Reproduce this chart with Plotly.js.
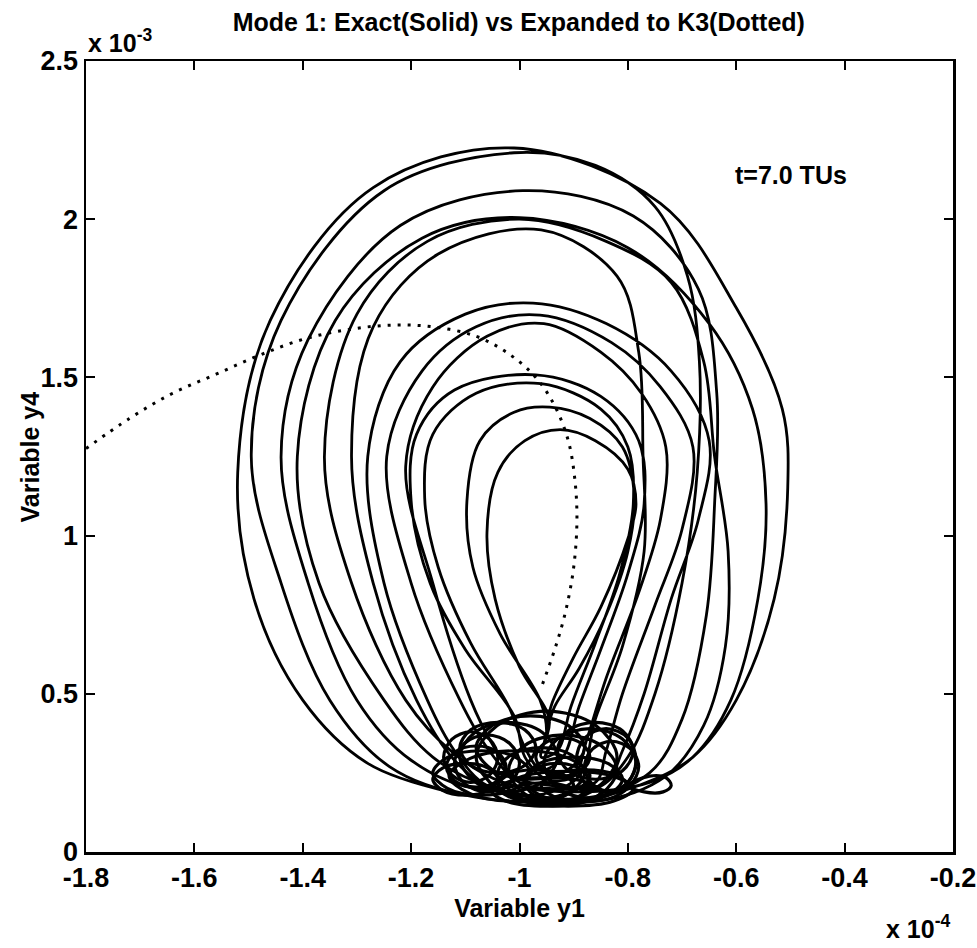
<!DOCTYPE html>
<html>
<head>
<meta charset="utf-8">
<script src="https://cdn.plot.ly/plotly-3.0.1.min.js"></script>
<style>
  html, body { margin: 0; padding: 0; background: #ffffff; }
  #chart { width: 977px; height: 948px; }
</style>
</head>
<body>
<div id="chart"></div>
<script>
// ---- Data (x in units of 1e-4, y in units of 1e-3) ----

// Exact solution: large loops of the trajectory, joined inside the bottom cluster
const exactLoopsX = [
  // loop 1 (outermost, top ~2.225)
  -1.13, -1.28, -1.40, -1.49, -1.52, -1.46, -1.27, -1.01, -0.74, -0.60, -0.515, -0.505, -0.53, -0.60, -0.68, -0.78,
  -0.90,
  // loop 2 (top ~2.21)
  -1.10, -1.24, -1.35, -1.44, -1.495, -1.44, -1.25, -1.01, -0.86, -0.75, -0.69, -0.668, -0.672, -0.70, -0.75, -0.80, -0.86,
  -0.95,
  // loop 3 (top ~2.09)
  -1.08, -1.20, -1.30, -1.39, -1.44, -1.39, -1.22, -0.994, -0.79, -0.67, -0.636, -0.64, -0.655, -0.70, -0.76,
  -0.88,
  // loop 4 (top ~2.0)
  -1.06, -1.16, -1.25, -1.37, -1.41, -1.34, -1.18, -1.00, -0.80, -0.65, -0.57, -0.545, -0.56, -0.61, -0.68, -0.76,
  -0.90,
  // loop 5 (top ~2.0)
  -1.03, -1.12, -1.21, -1.31, -1.36, -1.30, -1.17, -1.00, -0.84, -0.72, -0.66, -0.64, -0.615, -0.62, -0.66, -0.73,
  -0.86,
  // loop 6 (top ~1.966)
  -1.04, -1.12, -1.19, -1.27, -1.31, -1.27, -1.15, -0.96, -0.82, -0.78, -0.772, -0.77, -0.81, -0.86, -0.89,
  -0.97,
  // loop 7 (top ~1.735)
  -1.06, -1.12, -1.17, -1.25, -1.28, -1.22, -1.10, -0.975, -0.84, -0.72, -0.65, -0.67, -0.72, -0.77, -0.81, -0.84,
  -0.92,
  // loop 8 (top ~1.697)
  -1.00, -1.06, -1.11, -1.20, -1.245, -1.18, -1.08, -0.962, -0.83, -0.74, -0.68, -0.70, -0.75, -0.81, -0.84, -0.86,
  -0.94,
  // loop 9 (top ~1.67)
  -1.01, -1.05, -1.09, -1.16, -1.21, -1.16, -1.06, -0.955, -0.85, -0.775, -0.73, -0.74, -0.78, -0.84, -0.875, -0.90,
  -0.95,
  // loop 10 (top ~1.508)
  -0.99, -1.01, -1.10, -1.165, -1.20, -1.19, -1.12, -0.97, -0.85, -0.78, -0.77, -0.80, -0.85, -0.89, -0.92,
  -0.96,
  // loop 11 (top ~1.48)
  -0.99, -1.02, -1.09, -1.15, -1.175, -1.16, -1.08, -0.96, -0.85, -0.80, -0.79, -0.815, -0.86, -0.905, -0.93,
  -0.96,
  // loop 12 (teardrop, top ~1.406)
  -0.95, -0.962, -1.036, -1.086, -1.097, -1.073, -1.01, -0.944, -0.87, -0.81, -0.788, -0.80, -0.84, -0.89, -0.935, -0.95,
  -0.955,
  // loop 13 (innermost teardrop, top ~1.335)
  -0.945, -1.0, -1.045, -1.06, -1.04, -0.99, -0.925, -0.86, -0.80, -0.785, -0.80, -0.85, -0.90, -0.94, -0.95
];
const exactLoopsY = [
  0.19, 0.28, 0.48, 0.80, 1.20, 1.68, 2.10, 2.225, 2.05, 1.72, 1.40, 1.15, 0.80, 0.48, 0.30, 0.21,
  0.16,
  0.18, 0.27, 0.48, 0.85, 1.25, 1.68, 2.09, 2.21, 2.17, 2.04, 1.82, 1.55, 1.20, 0.85, 0.50, 0.30, 0.20,
  0.22,
  0.20, 0.29, 0.48, 0.85, 1.25, 1.62, 1.98, 2.09, 2.01, 1.78, 1.45, 1.10, 0.75, 0.42, 0.25,
  0.17,
  0.21, 0.30, 0.48, 0.85, 1.25, 1.68, 1.94, 2.005, 1.91, 1.67, 1.40, 1.10, 0.80, 0.48, 0.30, 0.22,
  0.19,
  0.22, 0.31, 0.48, 0.85, 1.25, 1.70, 1.93, 2.0, 1.93, 1.80, 1.55, 1.25, 0.95, 0.65, 0.40, 0.24,
  0.16,
  0.19, 0.29, 0.48, 0.85, 1.25, 1.66, 1.89, 1.966, 1.82, 1.58, 1.25, 0.95, 0.65, 0.42, 0.24,
  0.18,
  0.21, 0.32, 0.48, 0.85, 1.25, 1.55, 1.70, 1.735, 1.67, 1.52, 1.30, 1.05, 0.80, 0.50, 0.32, 0.22,
  0.20,
  0.22, 0.33, 0.48, 0.85, 1.25, 1.52, 1.66, 1.697, 1.61, 1.47, 1.28, 1.02, 0.78, 0.50, 0.32, 0.22,
  0.21,
  0.24, 0.34, 0.48, 0.85, 1.22, 1.47, 1.63, 1.67, 1.58, 1.45, 1.28, 1.05, 0.82, 0.55, 0.36, 0.24,
  0.23,
  0.30, 0.43, 0.64, 0.85, 1.11, 1.32, 1.46, 1.508, 1.44, 1.30, 1.10, 0.88, 0.64, 0.46, 0.30,
  0.26,
  0.33, 0.46, 0.66, 0.90, 1.12, 1.32, 1.45, 1.48, 1.40, 1.28, 1.10, 0.88, 0.66, 0.46, 0.32,
  0.30,
  0.38, 0.48, 0.69, 0.90, 1.11, 1.30, 1.39, 1.406, 1.37, 1.28, 1.12, 0.95, 0.75, 0.58, 0.46, 0.38,
  0.34,
  0.42, 0.585, 0.80, 1.01, 1.20, 1.30, 1.335, 1.30, 1.21, 1.10, 0.99, 0.774, 0.616, 0.47, 0.40
];

// Exact solution: small tangled loops of the bottom cluster (null separates loops)
const clusterX = [
  -1.00, -1.018, -1.06, -1.102, -1.12, -1.102, -1.06, -1.018, -1.00, null,
  -0.93, -0.957, -1.02, -1.083, -1.11, -1.083, -1.02, -0.957, -0.93, null,
  -0.82, -0.859, -0.95, -1.041, -1.08, -1.041, -0.95, -0.859, -0.82, null,
  -0.82, -0.85, -0.92, -0.99, -1.02, -0.99, -0.92, -0.85, -0.82, null,
  -0.785, -0.81, -0.87, -0.93, -0.955, -0.93, -0.87, -0.81, -0.785, null,
  -0.785, -0.80, -0.84, -0.88, -0.895, -0.88, -0.84, -0.80, -0.785, null,
  -0.87, -0.909, -1.00, -1.091, -1.13, -1.091, -1.00, -0.909, -0.87, null,
  -0.87, -0.888, -0.93, -0.972, -0.99, -0.972, -0.93, -0.888, -0.87, null,
  -0.88, -0.904, -0.96, -1.016, -1.04, -1.016, -0.96, -0.904, -0.88, null,
  -0.79, -0.826, -0.91, -0.994, -1.03, -0.994, -0.91, -0.826, -0.79, null,
  -1.025, -1.041, -1.08, -1.119, -1.135, -1.119, -1.08, -1.041, -1.025, null,
  -0.78, -0.795, -0.83, -0.865, -0.88, -0.865, -0.83, -0.795, -0.78, null,
  -0.88, -0.91, -0.98, -1.05, -1.08, -1.05, -0.98, -0.91, -0.88, null,
  -0.98, -1.007, -1.07, -1.133, -1.16, -1.133, -1.07, -1.007, -0.98, null,
  -0.81, -0.836, -0.90, -0.964, -0.99, -0.964, -0.90, -0.836, -0.81, null,
  -0.97, -0.99, -1.04, -1.09, -1.11, -1.09, -1.04, -0.99, -0.97, null,
  -0.79, -0.81, -0.86, -0.91, -0.93, -0.91, -0.86, -0.81, -0.79, null,
  -1.04, -1.058, -1.10, -1.142, -1.16, -1.142, -1.10, -1.058, -1.04, null,
  -0.85, -0.88, -0.95, -1.02, -1.05, -1.02, -0.95, -0.88, -0.85, null,
  -0.80, -0.824, -0.88, -0.936, -0.96, -0.936, -0.88, -0.824, -0.80, null,
  -0.90, -0.92, -0.97, -1.02, -1.04, -1.02, -0.97, -0.92, -0.90, null,
  -0.87, -0.885, -0.92, -0.955, -0.97, -0.955, -0.92, -0.885, -0.87, null,
  -1.04, -1.055, -1.09, -1.125, -1.14, -1.125, -1.09, -1.055, -1.04, null,
  -0.80, -0.76, -0.73, -0.72, -0.735, -0.77, -0.80
];
const clusterY = [
  0.28, 0.343, 0.37, 0.343, 0.28, 0.217, 0.19, 0.217, 0.28, null,
  0.30, 0.377, 0.41, 0.377, 0.30, 0.223, 0.19, 0.223, 0.30, null,
  0.30, 0.40, 0.445, 0.40, 0.30, 0.20, 0.155, 0.20, 0.30, null,
  0.26, 0.337, 0.37, 0.337, 0.26, 0.183, 0.15, 0.183, 0.26, null,
  0.28, 0.357, 0.39, 0.357, 0.28, 0.203, 0.17, 0.203, 0.28, null,
  0.29, 0.36, 0.39, 0.36, 0.29, 0.22, 0.19, 0.22, 0.29, null,
  0.24, 0.296, 0.32, 0.296, 0.24, 0.184, 0.16, 0.184, 0.24, null,
  0.22, 0.262, 0.28, 0.262, 0.22, 0.178, 0.16, 0.178, 0.22, null,
  0.25, 0.306, 0.33, 0.306, 0.25, 0.194, 0.17, 0.194, 0.25, null,
  0.20, 0.239, 0.255, 0.239, 0.20, 0.161, 0.145, 0.161, 0.20, null,
  0.27, 0.316, 0.335, 0.316, 0.27, 0.224, 0.205, 0.224, 0.27, null,
  0.27, 0.326, 0.35, 0.326, 0.27, 0.214, 0.19, 0.214, 0.27, null,
  0.33, 0.40, 0.43, 0.40, 0.33, 0.26, 0.23, 0.26, 0.33, null,
  0.25, 0.299, 0.32, 0.299, 0.25, 0.201, 0.18, 0.201, 0.25, null,
  0.23, 0.279, 0.30, 0.279, 0.23, 0.181, 0.16, 0.181, 0.23, null,
  0.33, 0.386, 0.41, 0.386, 0.33, 0.274, 0.25, 0.274, 0.33, null,
  0.32, 0.383, 0.41, 0.383, 0.32, 0.257, 0.23, 0.257, 0.32, null,
  0.23, 0.265, 0.28, 0.265, 0.23, 0.195, 0.18, 0.195, 0.23, null,
  0.19, 0.222, 0.235, 0.222, 0.19, 0.158, 0.145, 0.158, 0.19, null,
  0.21, 0.245, 0.26, 0.245, 0.21, 0.175, 0.16, 0.175, 0.21, null,
  0.21, 0.245, 0.26, 0.245, 0.21, 0.175, 0.16, 0.175, 0.21, null,
  0.30, 0.342, 0.36, 0.342, 0.30, 0.258, 0.24, 0.258, 0.30, null,
  0.30, 0.356, 0.38, 0.356, 0.30, 0.244, 0.22, 0.244, 0.30, null,
  0.21, 0.24, 0.235, 0.21, 0.19, 0.19, 0.21
];

// Expanded to K3 (dotted)
const expandedX = [-1.80, -1.72, -1.64, -1.56, -1.48, -1.40, -1.32, -1.24, -1.16, -1.08, -1.02, -0.97, -0.935, -0.91, -0.898, -0.894, -0.90, -0.915, -0.935, -0.962];
const expandedY = [1.275, 1.37, 1.45, 1.51, 1.57, 1.62, 1.65, 1.665, 1.66, 1.63, 1.575, 1.50, 1.41, 1.30, 1.18, 1.05, 0.90, 0.76, 0.64, 0.51];

// Axis ticks
const xTickVals = [-1.8, -1.6, -1.4, -1.2, -1.0, -0.8, -0.6, -0.4, -0.2];
const xTickText = ['-1.8', '-1.6', '-1.4', '-1.2', '-1', '-0.8', '-0.6', '-0.4', '-0.2'];
const yTickVals = [0, 0.5, 1, 1.5, 2, 2.5];
const yTickText = ['0', '0.5', '1', '1.5', '2', '2.5'];

// ---- Plot ----
const FONT = 'Liberation Sans, Arial, Helvetica, sans-serif';

const traces = [
  {
    x: exactLoopsX, y: exactLoopsY, type: 'scatter', mode: 'lines',
    line: { color: '#000', width: 2.8, shape: 'spline', smoothing: 1 },
    hoverinfo: 'skip', showlegend: false
  },
  {
    x: clusterX, y: clusterY, type: 'scatter', mode: 'lines',
    line: { color: '#000', width: 3.2, shape: 'spline', smoothing: 1 },
    connectgaps: false, hoverinfo: 'skip', showlegend: false
  },
  {
    x: expandedX, y: expandedY, type: 'scatter', mode: 'lines',
    line: { color: '#000', width: 3, shape: 'spline', smoothing: 1, dash: '3px,7px' },
    hoverinfo: 'skip', showlegend: false
  }
];

const layout = {
  width: 977, height: 948,
  margin: { l: 86, r: 24, t: 61, b: 96 },
  paper_bgcolor: '#fff', plot_bgcolor: '#fff',
  showlegend: false,
  title: {
    text: 'Mode 1: Exact(Solid) vs Expanded to K3(Dotted)',
    font: { family: FONT, size: 25, color: '#000', weight: 'bold' },
    x: 0.531, xanchor: 'center', y: 0.977, yanchor: 'middle'
  },
  xaxis: {
    range: [-1.8, -0.2], autorange: false,
    tickmode: 'array', tickvals: xTickVals, ticktext: xTickText,
    ticks: 'inside', ticklen: 9, tickwidth: 2, tickcolor: '#000',
    showline: true, linewidth: 2.5, linecolor: '#000', mirror: 'ticks',
    showgrid: false, zeroline: false,
    tickfont: { family: FONT, size: 27, color: '#000', weight: 'bold' },
    title: { text: 'Variable y1', font: { family: FONT, size: 25, color: '#000', weight: 'bold' }, standoff: 8 }
  },
  yaxis: {
    range: [0, 2.5], autorange: false,
    tickmode: 'array', tickvals: yTickVals, ticktext: yTickText,
    ticks: 'inside', ticklen: 9, tickwidth: 2, tickcolor: '#000',
    showline: true, linewidth: 2.5, linecolor: '#000', mirror: 'ticks',
    showgrid: false, zeroline: false,
    tickfont: { family: FONT, size: 27, color: '#000', weight: 'bold' }
  },
  annotations: [
    {
      text: 'Variable y4', textangle: -90, xref: 'paper', yref: 'paper', x: -0.0646, y: 0.5,
      xanchor: 'center', yanchor: 'middle', showarrow: false,
      font: { family: FONT, size: 25, color: '#000', weight: 'bold' }
    },
    {
      text: 'x 10<sup>-3</sup>', xref: 'paper', yref: 'paper', x: 0.0, y: 1.002, xanchor: 'left', yanchor: 'bottom',
      showarrow: false, font: { family: FONT, size: 25, color: '#000', weight: 'bold' }
    },
    {
      text: 'x 10<sup>-4</sup>', xref: 'paper', yref: 'paper', x: 0.920, y: -0.117, xanchor: 'left', yanchor: 'bottom',
      showarrow: false, font: { family: FONT, size: 25, color: '#000', weight: 'bold' }
    },
    {
      text: 't=7.0 TUs', xref: 'x', yref: 'y', x: -0.606, y: 2.14, xanchor: 'left', yanchor: 'middle',
      showarrow: false, font: { family: FONT, size: 25, color: '#000', weight: 'bold' }
    }
  ]
};

Plotly.newPlot('chart', traces, layout, { staticPlot: true, displayModeBar: false });
</script>
</body>
</html>
